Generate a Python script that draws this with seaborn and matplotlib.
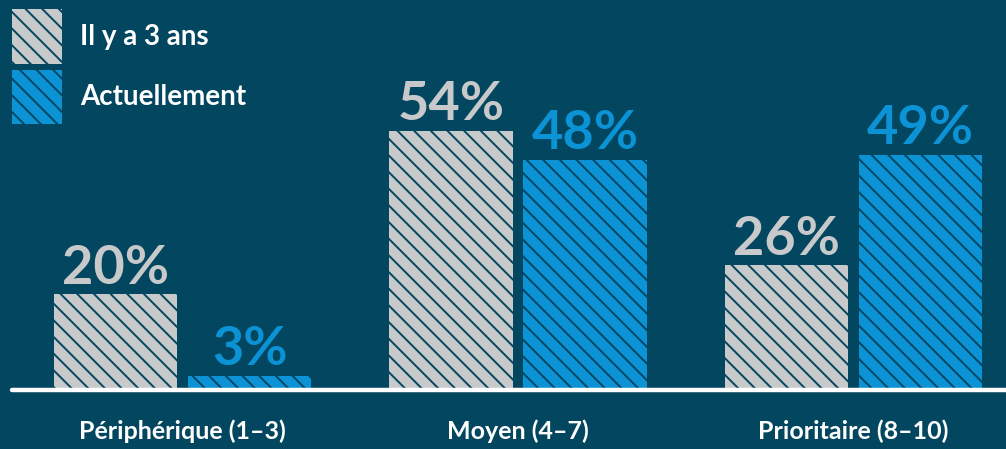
import pandas as pd
import matplotlib.pyplot as plt
import seaborn as sns
from matplotlib.patches import Patch

# donnees du graphique
categories = ["Périphérique (1–3)", "Moyen (4–7)", "Prioritaire (8–10)"]
periodes = ["Il y a 3 ans", "Actuellement"]
il_y_a_3_ans = [20, 54, 26]
actuellement = [3, 48, 49]

bg = "#02465f"
gris = "#c8c9cb"
bleu = "#0b93d6"
palette = {periodes[0]: gris, periodes[1]: bleu}

df = pd.DataFrame({
    "categorie": categories * 2,
    "periode": [periodes[0]] * 3 + [periodes[1]] * 3,
    "valeur": il_y_a_3_ans + actuellement,
})

sns.set_style("white")
plt.rcParams['font.family'] = ['Lato', 'DejaVu Sans']
plt.rcParams['hatch.linewidth'] = 1.4

fig = plt.figure(figsize=(10.06, 4.49), dpi=100, facecolor=bg)
ax = fig.add_axes([0, 59 / 449, 1, 390 / 449])
ax.set_facecolor(bg)

sns.barplot(data=df, x="categorie", y="valeur", hue="periode", palette=palette,
            saturation=1, gap=0.08, width=0.8, hatch='\\\\', edgecolor=bg,
            linewidth=0, legend=False, ax=ax)

ax.set_xlim(-0.544, 2.455)
ax.set_ylim(0, 81.25)

# etiquettes de valeurs
for cont, col, vals in zip(ax.containers, [gris, bleu], [il_y_a_3_ans, actuellement]):
    ax.bar_label(cont, labels=[f"{v}%" for v in vals], color=col, fontsize=39,
                 fontweight="bold", padding=1)

ax.axhline(0, xmin=0.012, color="white", lw=3.2, clip_on=False)

for s in ax.spines.values():
    s.set_visible(False)
ax.set_xlabel("")
ax.set_ylabel("")
ax.set_yticks([])
ax.tick_params(axis='x', length=0, pad=21, labelcolor="white", labelsize=18)
for t in ax.get_xticklabels():
    t.set_fontweight("bold")

handles = [Patch(facecolor=gris, edgecolor=bg, linewidth=0, hatch='\\\\'),
           Patch(facecolor=bleu, edgecolor=bg, linewidth=0, hatch='\\\\')]
fig.legend(handles, periodes, loc="upper left", bbox_to_anchor=(12 / 1006, 1 - 9 / 449),
           frameon=False, handlelength=1.8, handleheight=2.65,
           labelspacing=0.22, handletextpad=0.65, borderpad=0, borderaxespad=0,
           labelcolor="white", prop={"weight": "bold", "size": 20})

plt.savefig("out.png", dpi=100, facecolor=bg)
